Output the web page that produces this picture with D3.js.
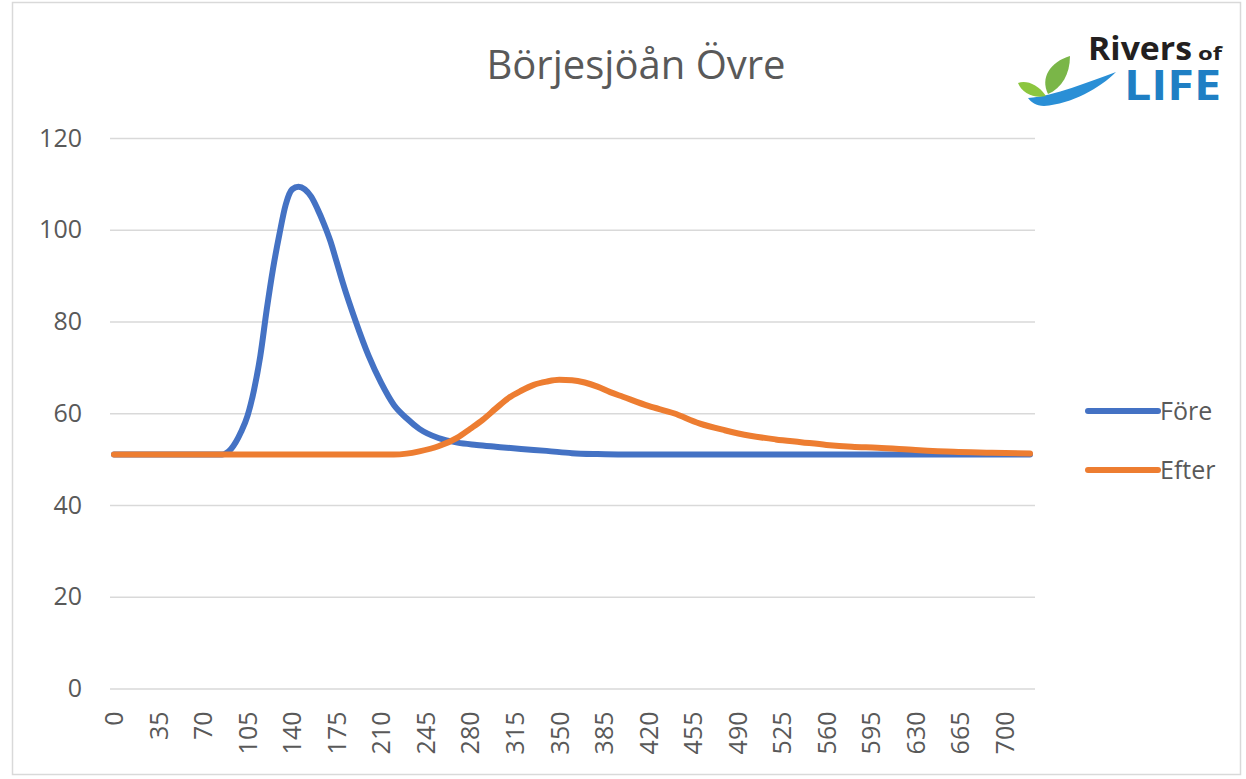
<!DOCTYPE html>
<html>
<head>
<meta charset="utf-8">
<script src="https://cdn.jsdelivr.net/npm/d3@7"></script>
<style>
	body { margin: 0; background: #fff; }
	svg { display: block; font-family: 'Open Sans', sans-serif; }
</style>
</head>
<body>
<div id="chart"></div>
<script>
// data
const title = 'Börjesjöån Övre';
const seriesNames = ['Före', 'Efter'];
const seriesColors = ['#4472c4', '#ed7d31'];

const foreX = [0, 85, 92, 100, 105, 110, 115, 120, 125, 130, 135, 140, 145, 150, 155, 160, 165, 170, 175, 180, 190, 200, 210, 220, 230, 240, 255, 270, 285, 300, 320, 340, 360, 380, 400, 720];
const foreY = [51, 51, 52.2, 56, 59.5, 65, 72.5, 82.5, 91.5, 99, 105.5, 108.8, 109.4, 108.8, 107.2, 104.5, 101.3, 97.6, 93, 88.3, 80, 72.6, 66.6, 61.8, 58.9, 56.6, 54.6, 53.6, 53.1, 52.7, 52.2, 51.8, 51.3, 51.1, 51, 51];

const efterX = [0, 220, 230, 240, 255, 270, 280, 290, 300, 310, 320, 330, 340, 350, 360, 370, 380, 390, 400, 420, 440, 460, 480, 500, 520, 540, 560, 580, 600, 630, 660, 690, 720];
const efterY = [51, 51, 51.2, 51.7, 52.8, 54.7, 56.6, 58.6, 61, 63.3, 64.9, 66.2, 66.9, 67.3, 67.2, 66.7, 65.8, 64.6, 63.6, 61.6, 60, 57.8, 56.3, 55.1, 54.3, 53.7, 53.1, 52.7, 52.5, 52, 51.6, 51.4, 51.2];

const xTicks = d3.range(0, 701, 35);
const yTicks = [0, 20, 40, 60, 80, 100, 120];

const width = 1246;
const height = 779;
const plot = {left: 110, right: 1035, top: 138, bottom: 688.5};
const font = "'Open Sans', sans-serif";

const svg = d3.select('#chart')
	.append('svg')
	.attr('width', width)
	.attr('height', height);

// outer chart border
svg.append('rect')
	.attr('x', 12.5)
	.attr('y', 2.5)
	.attr('width', 1228)
	.attr('height', 772)
	.attr('fill', '#fff')
	.attr('stroke', '#d9d9d9')
	.attr('stroke-width', 1.5);

const xScale = d3.scaleLinear().domain([0, 720]).range([114, 1030]);
const yScale = d3.scaleLinear().domain([0, 120]).range([plot.bottom, plot.top]);

// gridlines + y labels
const yAxis = d3.axisLeft(yScale)
	.tickValues(yTicks)
	.tickSize(-(plot.right - plot.left))
	.tickPadding(12);

svg.append('g')
	.attr('class', 'y-axis')
	.attr('transform', `translate(${plot.left},0)`)
	.call(yAxis)
	.attr('font-family', font)
	.attr('font-size', 25)
	.call(g => g.select('.domain').remove())
	.call(g => g.selectAll('.tick line').attr('stroke', '#d9d9d9').attr('stroke-width', 1.5))
	.call(g => g.selectAll('.tick text').attr('fill', '#595959').attr('x', -28));

// x labels, rotated
const xAxis = d3.axisBottom(xScale)
	.tickValues(xTicks)
	.tickSize(0)
	.tickPadding(0);

svg.append('g')
	.attr('class', 'x-axis')
	.attr('transform', `translate(0,${plot.bottom})`)
	.call(xAxis)
	.attr('font-family', font)
	.attr('font-size', 25)
	.call(g => g.select('.domain').remove())
	.call(g => g.selectAll('.tick text')
		.attr('fill', '#595959')
		.attr('text-anchor', 'end')
		.attr('y', 0)
		.attr('dy', '0.35em')
		.attr('transform', 'translate(0,23) rotate(-90)'));

// series lines
const lineGenerator = d3.line()
	.curve(d3.curveMonotoneX)
	.x(d => xScale(d[0]))
	.y(d => yScale(d[1]));

const series = [
	d3.zip(foreX, foreY),
	d3.zip(efterX, efterY)
];

svg.append('g')
	.selectAll('path')
	.data(series)
	.join('path')
	.attr('fill', 'none')
	.attr('stroke', (d, i) => seriesColors[i])
	.attr('stroke-width', 6)
	.attr('stroke-linecap', 'round')
	.attr('stroke-linejoin', 'round')
	.attr('d', lineGenerator);

// title
svg.append('text')
	.attr('x', 636)
	.attr('y', 79)
	.attr('text-anchor', 'middle')
	.attr('font-size', 40)
	.attr('fill', '#595959')
	.text(title);

// legend
const legend = svg.append('g')
	.selectAll('g')
	.data(seriesNames)
	.join('g')
	.attr('transform', (d, i) => `translate(1088,${411 + i * 59})`);

legend.append('line')
	.attr('x1', 0)
	.attr('x2', 70)
	.attr('stroke', (d, i) => seriesColors[i])
	.attr('stroke-width', 6)
	.attr('stroke-linecap', 'round');

legend.append('text')
	.attr('x', 72)
	.attr('dy', '0.35em')
	.attr('font-size', 25)
	.attr('fill', '#595959')
	.text(d => d);

// logo
const logo = svg.append('g');

logo.append('path')
	.attr('d', 'M1028,98 C1055,96 1088,82 1116,72 C1100,88 1072,104 1044,106 C1036,106 1031,102 1028,98 Z')
	.attr('fill', '#2a8fd6');
logo.append('path')
	.attr('d', 'M1048,94 C1040,78 1050,62 1070,56 C1070,74 1062,88 1048,94 Z')
	.attr('fill', '#7ab648');
logo.append('path')
	.attr('d', 'M1046,96 C1038,84 1026,80 1018,83 C1022,93 1034,99 1046,96 Z')
	.attr('fill', '#8cc63f');

logo.append('text')
	.attr('x', 1088)
	.attr('y', 60)
	.attr('font-size', 33)
	.attr('font-weight', 'bold')
	.attr('textLength', 104)
	.attr('lengthAdjust', 'spacingAndGlyphs')
	.attr('fill', '#231f20')
	.text('Rivers');

logo.append('text')
	.attr('x', 1198)
	.attr('y', 60)
	.attr('font-size', 18)
	.attr('font-weight', 'bold')
	.attr('textLength', 24)
	.attr('lengthAdjust', 'spacingAndGlyphs')
	.attr('fill', '#231f20')
	.text('of');

logo.append('text')
	.attr('x', 1124)
	.attr('y', 100)
	.attr('font-size', 42)
	.attr('font-weight', 'bold')
	.attr('textLength', 97)
	.attr('lengthAdjust', 'spacingAndGlyphs')
	.attr('fill', '#1f7fc4')
	.text('LIFE');
</script>
</body>
</html>
